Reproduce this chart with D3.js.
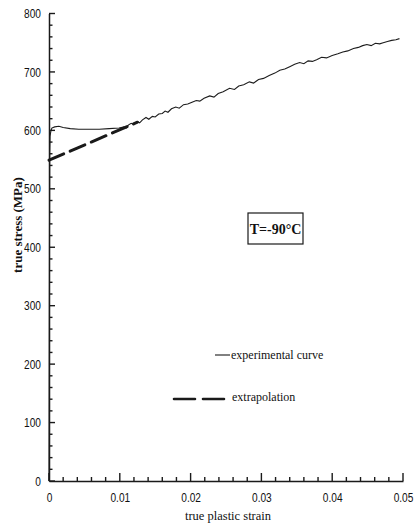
<!DOCTYPE html>
<html lang="en">
  <head>
    <meta charset="utf-8" />
    <title>true stress vs true plastic strain</title>
    <script src="https://d3js.org/d3.v7.min.js"></script>
    <style>
      body { margin: 0; background: #fff; }
      .axis path { fill: none; stroke: #1a1a1a; stroke-width: 1.5px; }
      .axis text { font-family: "Liberation Sans", Arial, sans-serif; font-size: 13px; fill: #111; }
      .lbl { font-family: "Liberation Serif", "Times New Roman", serif; fill: #111; }
      path.expt { fill: none; stroke: #1c1c1c; stroke-width: 1.1px; }
      path.extra { fill: none; stroke: #1a1a1a; stroke-width: 3px; stroke-dasharray: 16,7; stroke-linecap: round; }
    </style>
  </head>
  <body>
    <script>
      // experimental curve (true plastic strain, true stress MPa)
      let exp_strain = [0, 0.00005, 0.0001, 0.00015, 0.00025, 0.0004, 0.0008, 0.0014, 0.002, 0.003,
        0.0042, 0.0055, 0.0071, 0.0085, 0.0099, 0.0106, 0.0109, 0.0112, 0.0116, 0.012,
        0.0124, 0.0128, 0.0132, 0.0137, 0.0141, 0.0146, 0.015, 0.0155, 0.016, 0.0164,
        0.0168, 0.0173, 0.0179, 0.0184, 0.019, 0.0196, 0.0202, 0.0208, 0.0213, 0.0219,
        0.0227, 0.0233, 0.0239, 0.0246, 0.0255, 0.0262, 0.0268, 0.0275, 0.0283, 0.0289,
        0.0296, 0.0303, 0.0311, 0.0319, 0.0326, 0.0333, 0.034, 0.0347, 0.0354, 0.036,
        0.0366, 0.0372, 0.0378, 0.0385, 0.0392, 0.04, 0.0408, 0.0415, 0.0422, 0.043,
        0.0437, 0.0443, 0.0449, 0.0455, 0.0461, 0.0467, 0.0472, 0.0478, 0.0484, 0.049, 0.0495];
      let exp_stress = [0, 300, 560, 590, 598, 604, 606, 607, 605, 603,
        602, 602, 602, 603, 604, 606, 604, 609, 612, 610,
        615, 613, 618, 622, 619, 624, 623, 628, 629, 633,
        631, 637, 640, 638, 644, 645, 648, 651, 650, 655,
        659, 657, 663, 666, 672, 670, 676, 678, 683, 681,
        687, 689, 694, 698, 703, 705, 709, 713, 716, 714,
        719, 718, 721, 725, 724, 728, 731, 734, 736, 740,
        742, 745, 747, 745, 749, 748, 750, 752, 754, 755, 757];

      // extrapolation line
      let extra_strain = [0, 0.0125];
      let extra_stress = [549, 614];

      let x_ticks = [0, 0.01, 0.02, 0.03, 0.04, 0.05];
      let y_ticks = [0, 100, 200, 300, 400, 500, 600, 700, 800];
      let x_minor = d3.range(0, 0.0501, 0.002);
      let y_minor = d3.range(0, 801, 20);

      let w = 414;
      let h = 530;
      let x0 = 49;
      let y0 = 481;

      let svg = d3.select("body").append("svg").attr("width", w).attr("height", h);
      svg.append("rect").attr("width", w).attr("height", h).attr("fill", "#fff");

      let x_scale = d3.scaleLinear().domain([0, 0.05]).range([x0, 403]);
      let y_scale = d3.scaleLinear().domain([0, 800]).range([y0, 13.5]);

      let x_axis = d3.axisBottom(x_scale).tickValues(x_ticks)
        .tickFormat((d) => (d === 0 ? "0" : d3.format(".2f")(d)))
        .tickSize(0).tickPadding(12);
      let y_axis = d3.axisLeft(y_scale).tickValues(y_ticks)
        .tickFormat(d3.format("d")).tickSize(0).tickPadding(10);

      let gx = svg.append("g").attr("class", "x axis")
        .attr("transform", `translate(0,${y0})`).call(x_axis);
      gx.selectAll("text").attr("transform", "scale(0.78,1)");

      let gy = svg.append("g").attr("class", "y axis")
        .attr("transform", `translate(${x0},0)`).call(y_axis);
      gy.selectAll("text").attr("transform", "scale(0.78,1)").attr("x", -8 / 0.78);

      // curves
      let line = d3.line().x((d) => x_scale(d[0])).y((d) => y_scale(d[1]));
      svg.append("path").attr("class", "expt")
        .attr("d", line(d3.zip(exp_strain, exp_stress)));
      svg.append("path").attr("class", "extra")
        .attr("d", line(d3.zip(extra_strain, extra_stress)));

      // tick marks pointing into the plot
      let isMajorX = (d) => x_ticks.some((t) => Math.abs(t - d) < 1e-9);
      svg.append("g").selectAll("line").data(x_minor).join("line")
        .attr("stroke", "#1a1a1a").attr("stroke-width", 1.4)
        .attr("x1", (d) => x_scale(d)).attr("x2", (d) => x_scale(d))
        .attr("y1", y0).attr("y2", (d) => y0 - (isMajorX(d) ? 8 : 4));
      svg.append("g").selectAll("line").data(y_minor).join("line")
        .attr("stroke", "#1a1a1a").attr("stroke-width", 1.4)
        .attr("y1", (d) => y_scale(d)).attr("y2", (d) => y_scale(d))
        .attr("x1", x0).attr("x2", (d) => x0 + (d % 100 === 0 ? 6 : 3.5));

      // axis titles
      svg.append("text").attr("class", "lbl")
        .attr("transform", "translate(17,225) rotate(-90)")
        .attr("text-anchor", "middle").attr("dy", "0.35em")
        .style("font-size", "13px").style("font-weight", "bold")
        .text("true stress (MPa)");
      svg.append("text").attr("class", "lbl")
        .attr("x", 228).attr("y", 520).attr("text-anchor", "middle")
        .style("font-size", "12.5px")
        .text("true plastic strain");

      // temperature box
      svg.append("rect").attr("x", 248).attr("y", 213).attr("width", 55).attr("height", 31)
        .attr("fill", "none").attr("stroke", "#1a1a1a").attr("stroke-width", 1.2);
      svg.append("text").attr("class", "lbl")
        .attr("x", 275.5).attr("y", 229).attr("dy", "0.35em").attr("text-anchor", "middle")
        .style("font-size", "14px").style("font-weight", "bold")
        .text("T=-90°C");

      // legend
      svg.append("line").attr("x1", 215).attr("x2", 230).attr("y1", 355).attr("y2", 355)
        .attr("stroke", "#1a1a1a").attr("stroke-width", 1.1);
      svg.append("text").attr("class", "lbl")
        .attr("x", 231).attr("y", 355).attr("dy", "0.3em").style("font-size", "12px")
        .text("experimental curve");
      svg.append("line").attr("x1", 174).attr("x2", 226).attr("y1", 399).attr("y2", 399)
        .attr("stroke", "#1a1a1a").attr("stroke-width", 2.6)
        .attr("stroke-dasharray", "21,8").attr("stroke-linecap", "round");
      svg.append("text").attr("class", "lbl")
        .attr("x", 232).attr("y", 397).attr("dy", "0.3em").style("font-size", "12px")
        .text("extrapolation");
    </script>
  </body>
</html>
